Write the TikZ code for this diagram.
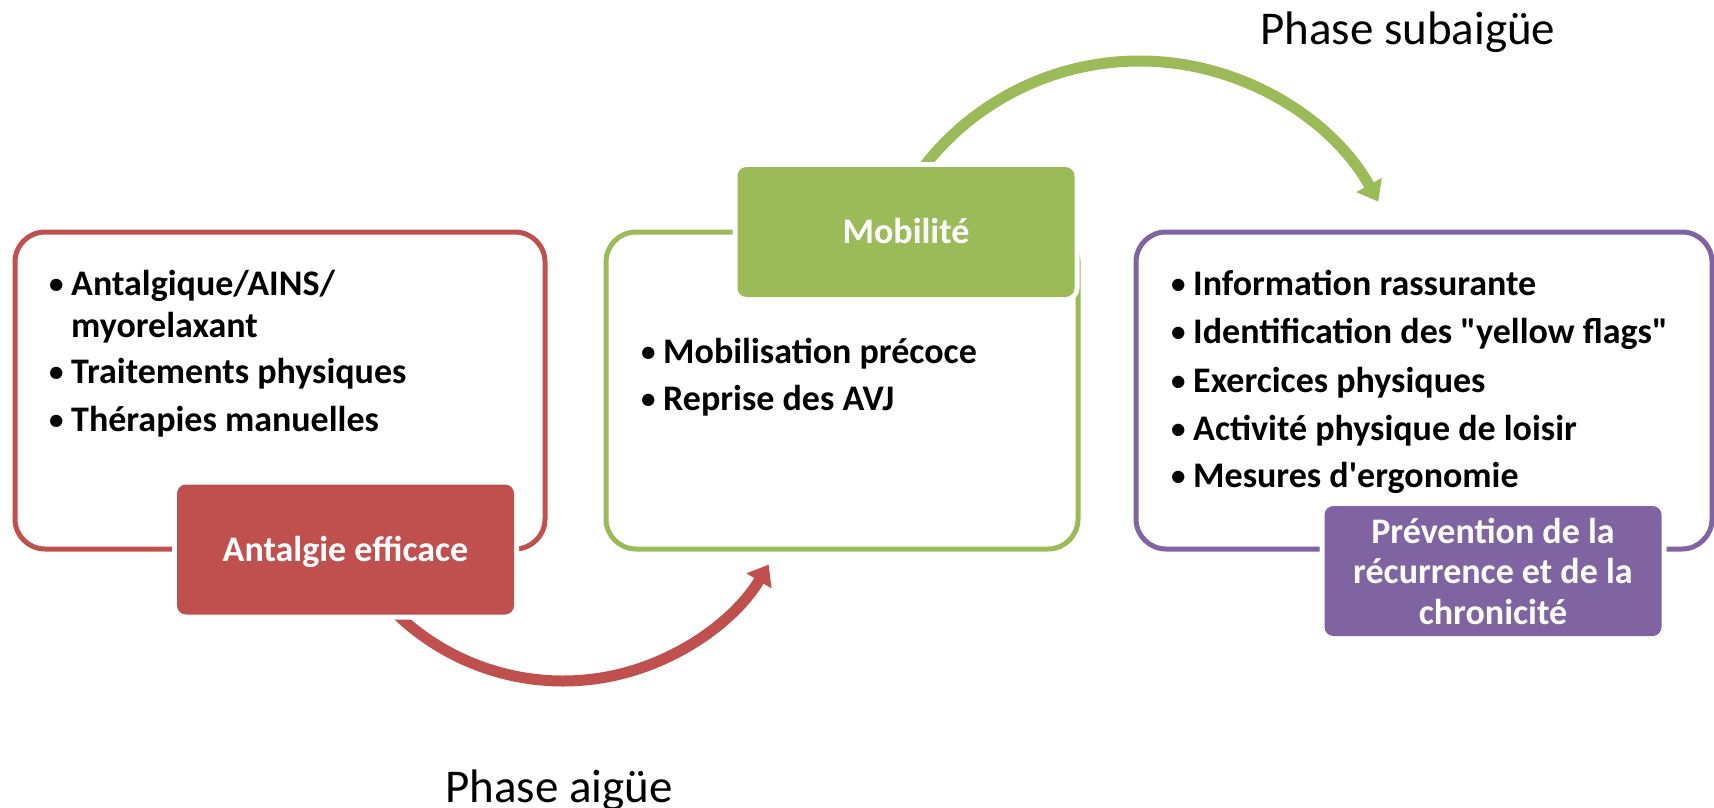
\documentclass[tikz,border=0pt]{standalone}
\usepackage{fontspec}
\setmainfont{Carlito}
\usetikzlibrary{arrows.meta,calc}
\definecolor{cred}{HTML}{C0504D}
\definecolor{cgreen}{HTML}{9BBB59}
\definecolor{cpurple}{HTML}{8064A2}
\newcommand{\bl}{\llap{\makebox[22pt][l]{\raisebox{2pt}{\fontsize{29}{29}\selectfont •}}}}
\begin{document}
\begin{tikzpicture}[x=1pt,y=-1pt,
  outerbox/.style={line width=5pt, rounded corners=30pt},
  labelbox/.style={rounded corners=9pt, minimum width=337pt, minimum height=130pt, inner sep=0pt, text=white, font=\fontsize{36}{40.5}\selectfont\bfseries, align=center, preaction={draw=white, line width=10pt}},
  oneline/.style={text height=23pt, text depth=0pt},
  bul/.style={anchor=base west, inner sep=0pt, font=\fontsize{36}{42}\selectfont\bfseries},
  phase/.style={anchor=base west, inner sep=0pt, font=\fontsize{47}{56}\selectfont},
  flow/.style={line width=11pt, -{Triangle[width=28pt,length=19pt]}}
]
\useasboundingbox (0,0) rectangle (1714,808);
% arrows
\coordinate (rc) at (563,441);
\coordinate (rs) at ($(rc)+(135:240)$);
\draw[flow, cred] (rs) arc[start angle=135, end angle=31, radius=240];
\coordinate (gc) at (1139.5,334);
\coordinate (gs) at ($(gc)+(-143:273)$);
\draw[flow, cgreen] (gs) arc[start angle=-143, end angle=-29, radius=273];
% outer boxes
\draw[outerbox, cred] (15,232) rectangle (545,549);
\draw[outerbox, cgreen] (606,232) rectangle (1078,549);
\draw[outerbox, cpurple] (1136,232) rectangle (1712,549);
% label boxes
\node[labelbox, oneline, fill=cred] (ra) at (345.5,549.5) {Antalgie efficace};
\node[labelbox, oneline, fill=cgreen] (gm) at (906,232) {Mobilité};
\node[labelbox, fill=cpurple] (pp) at (1493,571) {Prévention de la\\récurrence et de la\\chronicité};
% bullets
\node[bul] (r1) at (71,295) {\bl Antalgique/AINS/};
\node[bul] (r1b) at (71,337) {myorelaxant};
\node[bul] (r2) at (71,383) {\bl Traitements physiques};
\node[bul] (r3) at (71,431) {\bl Thérapies manuelles};
\node[bul] (g1) at (663,363) {\bl Mobilisation précoce};
\node[bul] (g2) at (663,410) {\bl Reprise des AVJ};
\node[bul] (p1) at (1193,295) {\bl Information rassurante};
\node[bul] (p2) at (1193,343) {\bl Identification des \textquotedbl yellow flags\textquotedbl};
\node[bul] (p3) at (1193,392) {\bl Exercices physiques};
\node[bul] (p4) at (1193,440) {\bl Activité physique de loisir};
\node[bul] (p5) at (1193,487) {\bl Mesures d\textquotesingle ergonomie};
% phase labels
\node[phase] (ps) at (1260,45) {Phase subaigüe};
\node[phase] (pa) at (445,802) {Phase aigüe};
\end{tikzpicture}
\end{document}
